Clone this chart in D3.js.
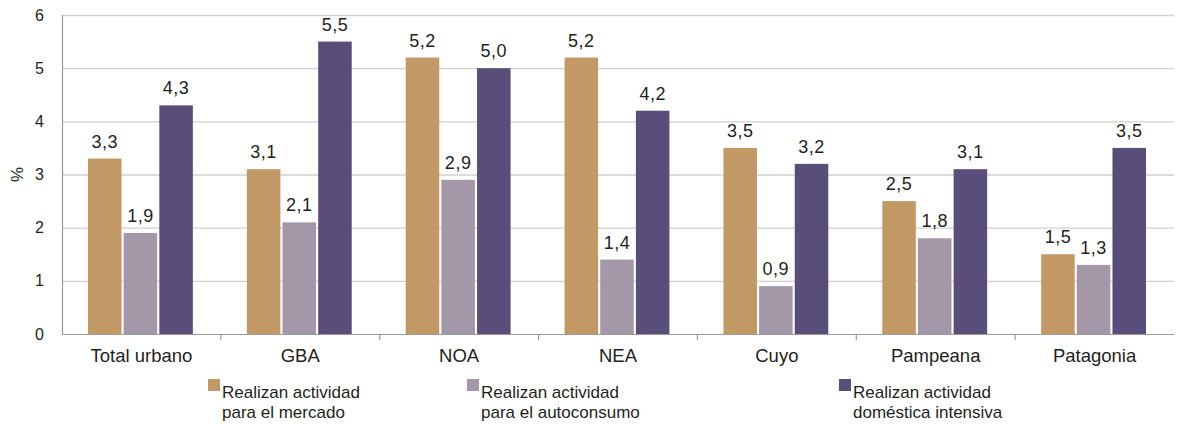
<!doctype html>
<html lang="es">
<head>
<meta charset="utf-8">
<title>Actividades</title>
<script src="https://d3js.org/d3.v7.min.js"></script>
<style>
  body { margin: 0; background: #fff; }
  text { font-family: "Liberation Sans", Arial, sans-serif; fill: #231f20; }
</style>
</head>
<body>
<div id="main"></div>
<script type="text/javascript">
  const regions = ['Total urbano', 'GBA', 'NOA', 'NEA', 'Cuyo', 'Pampeana', 'Patagonia']
  const mercado = [3.3, 3.1, 5.2, 5.2, 3.5, 2.5, 1.5]
  const autoconsumo = [1.9, 2.1, 2.9, 1.4, 0.9, 1.8, 1.3]
  const domestica = [4.3, 5.5, 5.0, 4.2, 3.2, 3.1, 3.5]
  const yTicks = [0, 1, 2, 3, 4, 5, 6]
  const seriesNames = [
    ['Realizan actividad', 'para el mercado'],
    ['Realizan actividad', 'para el autoconsumo'],
    ['Realizan actividad', 'doméstica intensiva']
  ]
  const colours = ['#c29865', '#a397a8', '#584e79']

  const width = 1178, height = 424
  const plotLeft = 62, plotRight = 1174, plotTop = 15, plotBottom = 334

  const series = [mercado, autoconsumo, domestica]

  const svg = d3.select('#main').append('svg')
    .attr('width', width).attr('height', height)

  const x = d3.scaleBand().domain(regions).range([plotLeft, plotRight]).paddingInner(0).paddingOuter(0)
  const inner = d3.scaleBand().domain([0, 1, 2]).range([26, x.bandwidth() - 28]).paddingInner(0.06)
  const y = d3.scaleLinear().domain([0, 6]).range([plotBottom, plotTop])

  // gridlines
  svg.append('g').selectAll('line').data(yTicks.filter(d => d > 0)).enter().append('line')
    .attr('x1', plotLeft).attr('x2', plotRight)
    .attr('y1', d => y(d) + 0.5).attr('y2', d => y(d) + 0.5)
    .attr('stroke', '#d0d0d0').attr('stroke-width', 1.3)

  // y tick labels
  svg.append('g').selectAll('text').data(yTicks).enter().append('text')
    .attr('x', 44).attr('y', d => y(d)).attr('dy', '0.35em')
    .attr('text-anchor', 'end').style('font-size', '16px')
    .text(d => d)

  svg.append('text')
    .attr('transform', `translate(23,${(plotTop + plotBottom) / 2}) rotate(-90)`)
    .attr('text-anchor', 'middle').style('font-size', '17px')
    .text('%')

  // bars
  const groups = svg.append('g').selectAll('g').data(regions).enter().append('g')
    .attr('transform', d => `translate(${x(d)},0)`)

  groups.selectAll('rect')
    .data((d, i) => series.map((s, k) => ({ k, v: s[i] })))
    .enter().append('rect')
    .attr('x', d => inner(d.k))
    .attr('width', inner.bandwidth())
    .attr('y', d => y(d.v))
    .attr('height', d => y(0) - y(d.v))
    .attr('fill', d => colours[d.k])

  groups.selectAll('text.val')
    .data((d, i) => series.map((s, k) => ({ k, v: s[i] })))
    .enter().append('text')
    .attr('class', 'val')
    .attr('x', d => inner(d.k) + inner.bandwidth() / 2)
    .attr('y', d => y(d.v) - 11)
    .attr('text-anchor', 'middle').style('font-size', '18px')
    .style('letter-spacing', '0.5px')
    .text(d => d.v.toFixed(1).replace('.', ','))

  // axes lines
  svg.append('line').attr('x1', plotLeft + 0.5).attr('x2', plotLeft + 0.5).attr('y1', plotTop).attr('y2', plotBottom)
    .attr('stroke', '#9a9a9a').attr('stroke-width', 1.2)
  svg.append('line').attr('x1', plotLeft).attr('x2', plotRight).attr('y1', plotBottom + 0.5).attr('y2', plotBottom + 0.5)
    .attr('stroke', '#9a9a9a').attr('stroke-width', 1.2)

  svg.append('g').selectAll('line').data(regions.slice(1)).enter().append('line')
    .attr('x1', d => x(d)).attr('x2', d => x(d))
    .attr('y1', plotBottom).attr('y2', plotBottom + 6)
    .attr('stroke', '#9a9a9a').attr('stroke-width', 1.2)

  svg.append('g').selectAll('text').data(regions).enter().append('text')
    .attr('x', d => x(d) + x.bandwidth() / 2).attr('y', 362)
    .attr('text-anchor', 'middle').style('font-size', '18.5px')
    .text(d => d)

  // legend
  const legendX = [208, 467, 839]
  const legend = svg.append('g').selectAll('g').data(seriesNames).enter().append('g')
    .attr('transform', (d, i) => `translate(${legendX[i]},0)`)
  legend.append('rect')
    .attr('x', 0).attr('y', 379).attr('width', 12).attr('height', 12)
    .attr('fill', (d, i) => colours[i])
  legend.append('text')
    .attr('x', 14).attr('y', 398).style('font-size', '17px')
    .text(d => d[0])
  legend.append('text')
    .attr('x', 14).attr('y', 418).style('font-size', '17px')
    .text(d => d[1])
</script>
</body>
</html>
